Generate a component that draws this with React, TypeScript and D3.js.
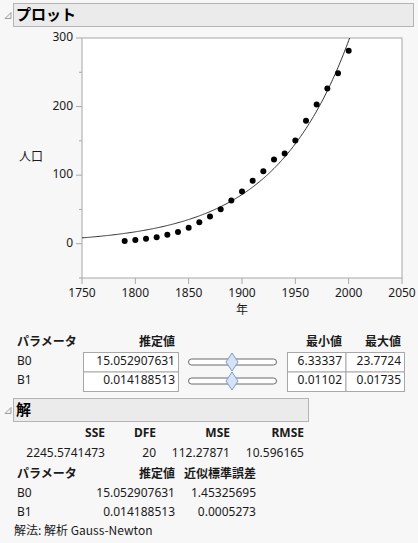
import React from "react";
import * as d3 from "d3";

// US census population (millions)
const years = [1790, 1800, 1810, 1820, 1830, 1840, 1850, 1860, 1870, 1880, 1890,
  1900, 1910, 1920, 1930, 1940, 1950, 1960, 1970, 1980, 1990, 2000];
const population = [3.9, 5.3, 7.2, 9.6, 12.9, 17.1, 23.2, 31.4, 39.8, 50.2, 62.9,
  76.0, 92.0, 105.7, 122.8, 131.7, 150.7, 179.3, 203.2, 226.5, 248.7, 281.4];

const xTicks = [1750, 1800, 1850, 1900, 1950, 2000, 2050];
const yTicks = [0, 100, 200, 300];
const yMinorTicks = [-50, 50, 150, 250];

// fitted model: B0 * exp(B1 * (年 - 1790))
const B0 = 15.052907631;
const B1 = 0.014188513;

const paramNames = ["B0", "B1"];
const paramEstimates = ["15.052907631", "0.014188513"];
const paramMins = ["6.33337", "0.01102"];
const paramMaxs = ["23.7724", "0.01735"];
const paramStdErr = ["1.45325695", "0.0005273"];

const statNames = ["SSE", "DFE", "MSE", "RMSE"];
const statValues = ["2245.5741473", "20", "112.27871", "10.596165"];

const W = 418;
const H = 543;
const plot = { left: 82, right: 402, top: 38, bottom: 278 };

const FONT = "'Noto Sans', 'Noto Sans CJK JP', sans-serif";
const JP = "'Noto Sans CJK JP', 'Noto Sans', sans-serif";
const TEXT = "#1a1a1a";
const BORDER = "#a8a8a8";

function Header({ x, y, w, h, label }: { x: number; y: number; w: number; h: number; label: string }) {
  return (
    <g>
      <path d={`M${x - 8},${y + h / 2 + 4} L${x - 2},${y + h / 2 - 2} L${x - 2},${y + h / 2 + 4} Z`}
        fill="#f0f0f0" stroke="#8a8a8a" strokeWidth={0.8} />
      <rect x={x + 0.5} y={y + 0.5} width={w} height={h} fill="#ebebeb" stroke="#b4b4b4" />
      <text x={x + 3} y={y + h / 2 + 1} dominantBaseline="middle" fontFamily={JP}
        fontWeight={700} fontSize={15} fill="#000">{label}</text>
    </g>
  );
}

function Slider({ cx, y }: { cx: number; y: number }) {
  return (
    <g>
      <rect x={188.5} y={y - 3} width={88} height={6} rx={3} fill="#fff" stroke="#6a6a6a" />
      <path d={`M${cx},${y - 9} L${cx + 6},${y} L${cx},${y + 9} L${cx - 6},${y} Z`}
        fill="#d4e3f5" stroke="#7d9cc4" strokeWidth={1} />
    </g>
  );
}

export default function App() {
  const x = d3.scaleLinear().domain([1750, 2050]).range([plot.left, plot.right]);
  const y = d3.scaleLinear().domain([-50, 300]).range([plot.bottom, plot.top]);

  const curveYears = d3.range(1750, 2050.5, 1);
  const line = d3.line<number>()
    .x((d) => x(d))
    .y((d) => y(B0 * Math.exp(B1 * (d - 1790))));

  const rowY = [362, 381];

  return (
    <div style={{ position: "absolute", left: 0, top: 0, width: W, height: H }}>
      <svg width={W} height={H} style={{ display: "block" }}>
        <rect width={W} height={H} fill="#f7f7f7" />

        <Header x={13} y={3} w={400} h={23} label="プロット" />

        {/* plot frame */}
        <defs>
          <clipPath id="plot-clip">
            <rect x={plot.left} y={plot.top} width={plot.right - plot.left} height={plot.bottom - plot.top} />
          </clipPath>
        </defs>
        <rect x={plot.left} y={plot.top} width={plot.right - plot.left} height={plot.bottom - plot.top}
          fill="#fff" stroke={BORDER} />

        {/* y axis ticks */}
        {yTicks.map((t) => (
          <g key={`y${t}`}>
            <line x1={plot.left - 6} x2={plot.left} y1={y(t)} y2={y(t)} stroke={BORDER} />
            <text x={plot.left - 9} y={y(t)} textAnchor="end" dominantBaseline="middle"
              fontFamily={FONT} fontSize={12} fill={TEXT}>{t}</text>
          </g>
        ))}
        {yMinorTicks.map((t) => (
          <line key={`ym${t}`} x1={plot.left - 3} x2={plot.left} y1={y(t)} y2={y(t)} stroke={BORDER} />
        ))}

        {/* x axis ticks */}
        {xTicks.map((t) => (
          <g key={`x${t}`}>
            <line x1={x(t)} x2={x(t)} y1={plot.bottom} y2={plot.bottom + 6} stroke={BORDER} />
            <text x={x(t)} y={plot.bottom + 16} textAnchor="middle" dominantBaseline="middle"
              fontFamily={FONT} fontSize={12} fill={TEXT}>{t}</text>
          </g>
        ))}

        <text x={31} y={158} textAnchor="middle" dominantBaseline="middle" fontFamily={JP}
          fontSize={12} fill={TEXT}>人口</text>
        <text x={x(1900)} y={311} textAnchor="middle" dominantBaseline="middle" fontFamily={JP}
          fontSize={12} fill={TEXT}>年</text>

        <g clipPath="url(#plot-clip)">
          <path d={line(curveYears) ?? ""} fill="none" stroke="#333" strokeWidth={1} />
          {years.map((yr, i) => (
            <circle key={yr} cx={x(yr)} cy={y(population[i])} r={3} fill="#000" />
          ))}
        </g>

        {/* parameter / slider table */}
        <g fontFamily={FONT} fontSize={12} fill={TEXT}>
          <text x={17} y={343} dominantBaseline="middle" fontFamily={JP} fontWeight={700}>パラメータ</text>
          <text x={175} y={343} textAnchor="end" dominantBaseline="middle" fontFamily={JP} fontWeight={700}>推定値</text>
          <text x={342} y={343} textAnchor="end" dominantBaseline="middle" fontFamily={JP} fontWeight={700}>最小値</text>
          <text x={401} y={343} textAnchor="end" dominantBaseline="middle" fontFamily={JP} fontWeight={700}>最大値</text>
          {paramNames.map((p, i) => (
            <g key={p}>
              <text x={17} y={rowY[i]} dominantBaseline="middle">{p}</text>
              <rect x={83.5} y={352.5 + i * 19.5} width={95} height={19.5} fill="#fff" stroke={BORDER} />
              <text x={175} y={rowY[i]} textAnchor="end" dominantBaseline="middle">{paramEstimates[i]}</text>
              <Slider cx={232} y={rowY[i]} />
              <rect x={287.5} y={352.5 + i * 19.5} width={58.5} height={19.5} fill="#fff" stroke={BORDER} />
              <rect x={346} y={352.5 + i * 19.5} width={58.5} height={19.5} fill="#fff" stroke={BORDER} />
              <text x={342} y={rowY[i]} textAnchor="end" dominantBaseline="middle">{paramMins[i]}</text>
              <text x={401} y={rowY[i]} textAnchor="end" dominantBaseline="middle">{paramMaxs[i]}</text>
            </g>
          ))}
        </g>

        <Header x={13} y={398} w={295} h={23} label="解" />

        {/* solution report */}
        <g fontFamily={FONT} fontSize={12} fill={TEXT}>
          {statNames.map((s, i) => {
            const rx = [105, 156, 230, 304][i];
            return (
              <g key={s}>
                <text x={rx} y={434} textAnchor="end" dominantBaseline="middle" fontWeight={700}>{s}</text>
                <text x={rx} y={454} textAnchor="end" dominantBaseline="middle">{statValues[i]}</text>
              </g>
            );
          })}
          <text x={17} y={475} dominantBaseline="middle" fontFamily={JP} fontWeight={700}>パラメータ</text>
          <text x={175} y={475} textAnchor="end" dominantBaseline="middle" fontFamily={JP} fontWeight={700}>推定値</text>
          <text x={256} y={475} textAnchor="end" dominantBaseline="middle" fontFamily={JP} fontWeight={700}>近似標準誤差</text>
          {paramNames.map((p, i) => (
            <g key={`s${p}`}>
              <text x={17} y={494 + i * 18.5} dominantBaseline="middle">{p}</text>
              <text x={175} y={494 + i * 18.5} textAnchor="end" dominantBaseline="middle">{paramEstimates[i]}</text>
              <text x={256} y={494 + i * 18.5} textAnchor="end" dominantBaseline="middle">{paramStdErr[i]}</text>
            </g>
          ))}
          <text x={14} y={532} dominantBaseline="middle" fontFamily={JP}>解法: 解析 Gauss-Newton</text>
        </g>
      </svg>
    </div>
  );
}
